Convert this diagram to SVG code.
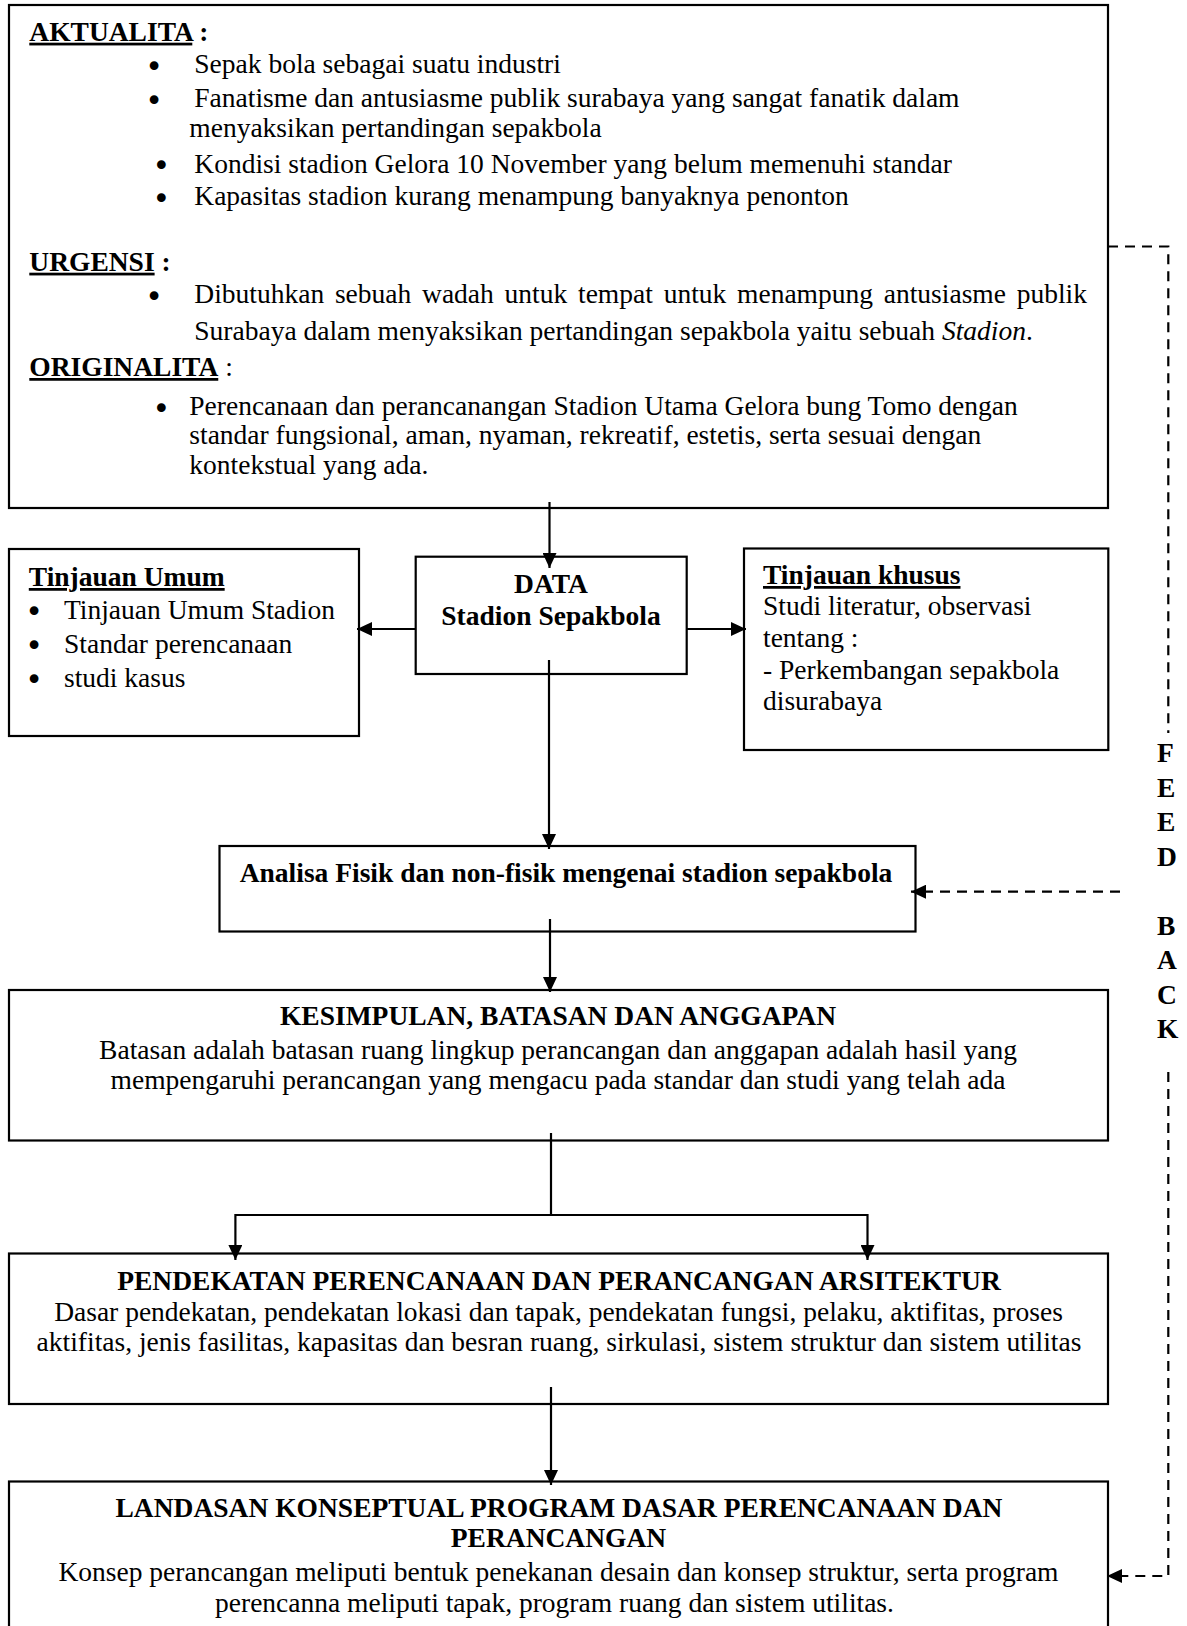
<svg xmlns="http://www.w3.org/2000/svg" width="1187" height="1626" viewBox="0 0 1187 1626">
<style>
.box{fill:#fff;stroke:#000;stroke-width:2.2}
.t{font-family:"Liberation Serif","Times New Roman",serif;font-size:27.5px;fill:#000}
.b{font-weight:bold}
.c{text-anchor:middle}
.u{text-decoration:underline}
.bl{font-family:"DejaVu Sans","Liberation Sans",sans-serif;font-size:30px;text-anchor:middle;fill:#000}
.ln{fill:none;stroke:#000;stroke-width:2.2}
.dash{fill:none;stroke:#000;stroke-width:2.2;stroke-dasharray:10 7}
</style>
<defs>
<marker id="ah" markerUnits="userSpaceOnUse" markerWidth="15" markerHeight="14" refX="15" refY="7" orient="auto">
<path d="M0,0 L15,7 L0,14 Z" fill="#000"/>
</marker>
</defs>
<rect width="1187" height="1626" fill="#fff"/>

<g id="node-aktualita">
<rect class="box" x="9" y="5" width="1099" height="503"/>
<text class="t b" x="29.3" y="40.7"><tspan class="u">AKTUALITA</tspan> :</text>
<text class="bl" x="154" y="77">•</text>
<text class="t" x="194.3" y="73.3">Sepak bola sebagai suatu industri</text>
<text class="bl" x="154" y="111">•</text>
<text class="t" x="194.3" y="107.3">Fanatisme dan antusiasme publik surabaya yang sangat fanatik dalam</text>
<text class="t" x="189.3" y="137.3">menyaksikan pertandingan sepakbola</text>
<text class="bl" x="161.3" y="176.4">•</text>
<text class="t" x="194.3" y="172.7">Kondisi stadion Gelora 10 November yang belum memenuhi standar</text>
<text class="bl" x="161.3" y="208.7">•</text>
<text class="t" x="194.3" y="205">Kapasitas stadion kurang menampung banyaknya penonton</text>
<text class="t b" x="29.3" y="270.7"><tspan class="u">URGENSI</tspan> :</text>
<text class="bl" x="154" y="307">•</text>
<text class="t" x="194.3" y="303.3" word-spacing="3.9">Dibutuhkan sebuah wadah untuk tempat untuk menampung antusiasme publik</text>
<text class="t" x="194.3" y="340">Surabaya dalam menyaksikan pertandingan sepakbola yaitu sebuah <tspan font-style="italic">Stadion</tspan>.</text>
<text class="t" x="29.3" y="376"><tspan class="b u">ORIGINALITA</tspan> :</text>
<text class="bl" x="161.3" y="418.7">•</text>
<text class="t" x="189.3" y="415">Perencanaan dan perancanangan Stadion Utama Gelora bung Tomo dengan</text>
<text class="t" x="189.3" y="444.3">standar fungsional, aman, nyaman, rekreatif, estetis, serta sesuai dengan</text>
<text class="t" x="189.3" y="474">kontekstual yang ada.</text>
</g>

<g id="node-tinjauan-umum">
<rect class="box" x="9" y="549" width="350" height="187"/>
<text class="t b u" x="28.8" y="586">Tinjauan Umum</text>
<text class="bl" x="34" y="622.2">•</text>
<text class="t" x="64" y="618.5">Tinjauan Umum Stadion</text>
<text class="bl" x="34" y="656.2">•</text>
<text class="t" x="64" y="652.5">Standar perencanaan</text>
<text class="bl" x="34" y="690.2">•</text>
<text class="t" x="64" y="686.5">studi kasus</text>
</g>

<g id="node-data">
<rect class="box" x="415.7" y="556.7" width="271" height="117.3"/>
<text class="t b c" x="551" y="593">DATA</text>
<text class="t b c" x="551" y="625">Stadion Sepakbola</text>
</g>

<g id="node-tinjauan-khusus">
<rect class="box" x="744" y="548.5" width="364.3" height="201.5"/>
<text class="t b u" x="763" y="584">Tinjauan khusus</text>
<text class="t" x="763" y="615">Studi literatur, observasi</text>
<text class="t" x="763" y="647">tentang :</text>
<text class="t" x="763" y="679">- Perkembangan sepakbola</text>
<text class="t" x="763" y="710">disurabaya</text>
</g>

<g id="node-analisa">
<rect class="box" x="219.5" y="846" width="696" height="85.5"/>
<text class="t b c" x="566" y="881.7">Analisa Fisik dan non-fisik mengenai stadion sepakbola</text>
</g>

<g id="node-kesimpulan">
<rect class="box" x="9" y="990" width="1099" height="150.5"/>
<text class="t b c" x="558" y="1025.4">KESIMPULAN, BATASAN DAN ANGGAPAN</text>
<text class="t c" x="558" y="1058.7">Batasan adalah batasan ruang lingkup perancangan dan anggapan adalah hasil yang</text>
<text class="t c" x="558" y="1089">mempengaruhi perancangan yang mengacu pada standar dan studi yang telah ada</text>
</g>

<g id="node-pendekatan">
<rect class="box" x="9" y="1253.5" width="1099" height="150.5"/>
<text class="t b c" x="559" y="1289.5">PENDEKATAN PERENCANAAN DAN PERANCANGAN ARSITEKTUR</text>
<text class="t c" x="558.5" y="1320.5">Dasar pendekatan, pendekatan lokasi dan tapak, pendekatan fungsi, pelaku, aktifitas, proses</text>
<text class="t c" x="559" y="1351">aktifitas, jenis fasilitas, kapasitas dan besran ruang, sirkulasi, sistem struktur dan sistem utilitas</text>
</g>

<g id="node-landasan">
<rect class="box" x="9" y="1481.5" width="1099" height="160"/>
<text class="t b c" x="559" y="1517">LANDASAN KONSEPTUAL PROGRAM DASAR PERENCANAAN DAN</text>
<text class="t b c" x="558.5" y="1547">PERANCANGAN</text>
<text class="t c" x="558.5" y="1581">Konsep perancangan meliputi bentuk penekanan desain dan konsep struktur, serta program</text>
<text class="t c" x="554.5" y="1612">perencanna meliputi tapak, program ruang dan sistem utilitas.</text>
</g>

<g id="connectors">
<line class="ln" x1="549.5" y1="502" x2="549.5" y2="568" marker-end="url(#ah)"/>
<line class="ln" x1="415.7" y1="629" x2="357" y2="629" marker-end="url(#ah)"/>
<line class="ln" x1="686.7" y1="629" x2="746" y2="629" marker-end="url(#ah)"/>
<line class="ln" x1="549" y1="660" x2="549" y2="849" marker-end="url(#ah)"/>
<line class="ln" x1="550" y1="919" x2="550" y2="992" marker-end="url(#ah)"/>
<polyline class="ln" points="551,1133 551,1215"/>
<polyline class="ln" points="235.4,1215 867.5,1215"/>
<line class="ln" x1="235.4" y1="1214" x2="235.4" y2="1260" marker-end="url(#ah)"/>
<line class="ln" x1="867.5" y1="1214" x2="867.5" y2="1260" marker-end="url(#ah)"/>
<line class="ln" x1="551" y1="1387" x2="551" y2="1485" marker-end="url(#ah)"/>
<polyline class="dash" points="1108,246.5 1168.3,246.5 1168.3,733"/>
<line class="dash" x1="1120" y1="891.7" x2="911" y2="891.7" marker-end="url(#ah)"/>
<polyline class="dash" points="1168.3,1072 1168.3,1576 1107,1576" marker-end="url(#ah)"/>
<g id="feedback-label">
<text class="t b" x="1157" y="762">F</text>
<text class="t b" x="1157" y="796.5">E</text>
<text class="t b" x="1157" y="831">E</text>
<text class="t b" x="1157" y="865.5">D</text>
<text class="t b" x="1157" y="934.5">B</text>
<text class="t b" x="1157" y="969">A</text>
<text class="t b" x="1157" y="1003.5">C</text>
<text class="t b" x="1157" y="1038">K</text>
</g>
</g>
</svg>
